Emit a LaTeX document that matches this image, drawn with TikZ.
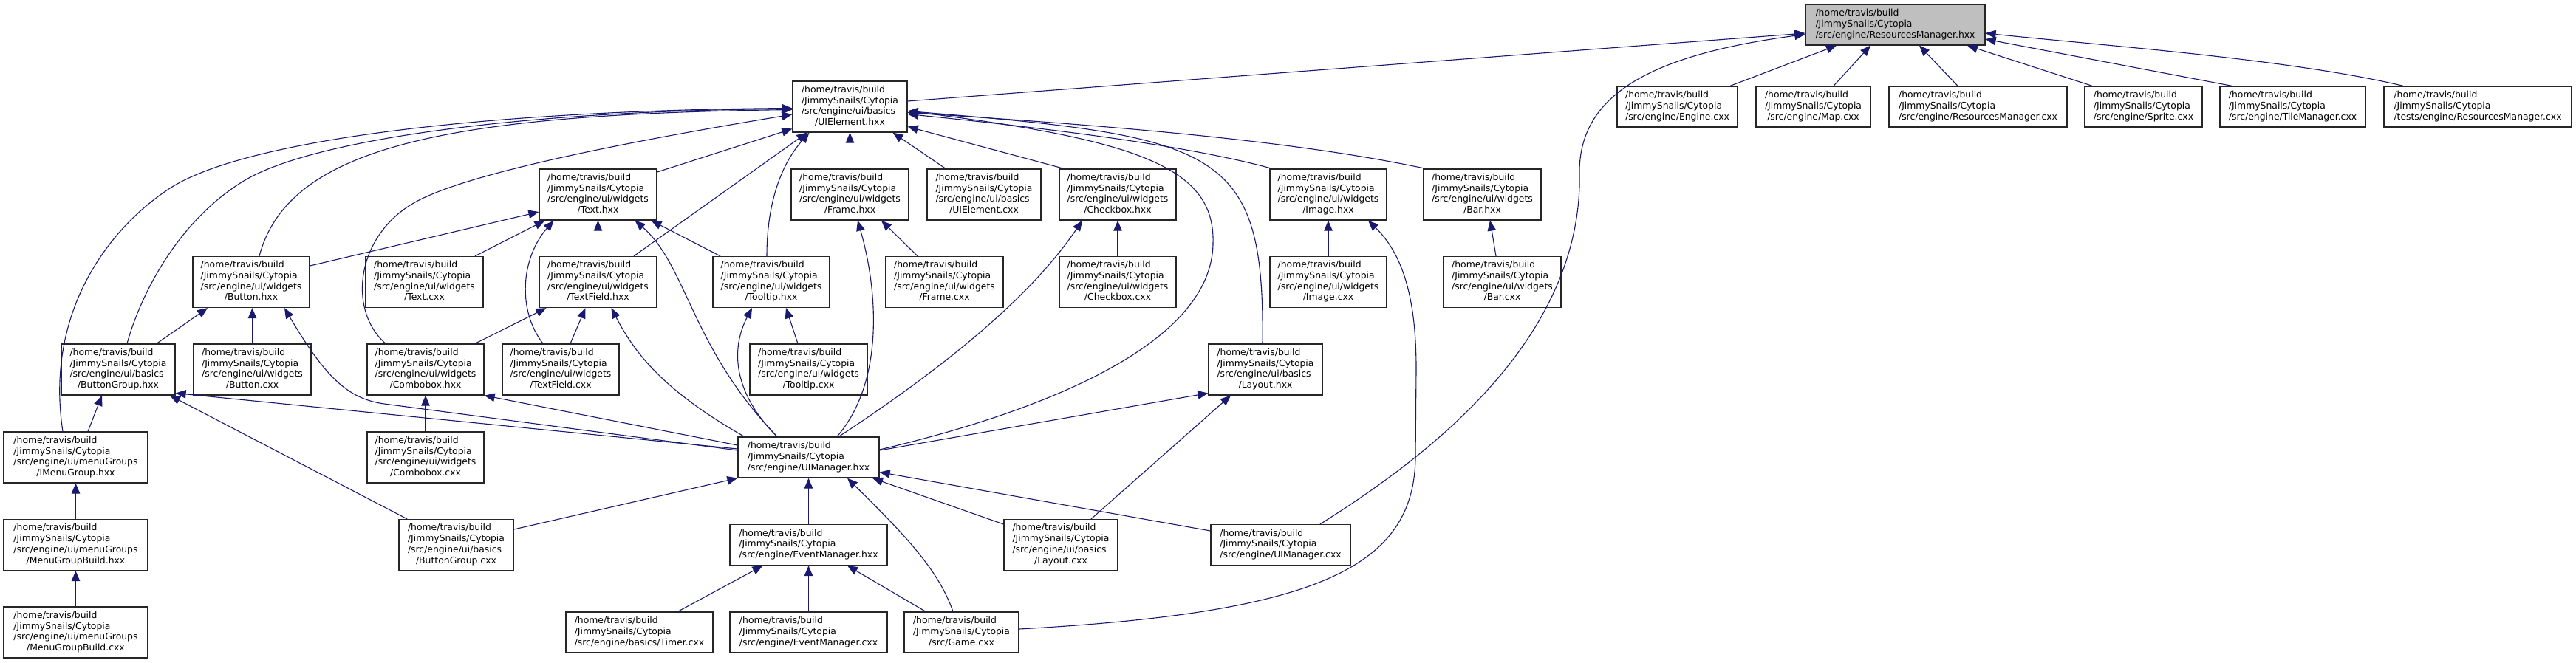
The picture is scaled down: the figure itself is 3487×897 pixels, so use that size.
\documentclass[tikz,border=0pt]{standalone}
\usepackage{fontspec}
\setmainfont{DejaVu Sans}
\usetikzlibrary{arrows.meta}
\definecolor{mblue}{HTML}{191970}
\definecolor{rmgray}{HTML}{BFBFBF}
\newcommand{\lblfour}[2]{\begin{tabular}{@{}l@{}}/home/travis/build\\/JimmySnails/Cytopia\\#1\\\multicolumn{1}{@{}c@{}}{#2}\end{tabular}}
\newcommand{\lblthree}[1]{\begin{tabular}{@{}l@{}}/home/travis/build\\/JimmySnails/Cytopia\\\multicolumn{1}{@{}c@{}}{#1}\end{tabular}}
\begin{document}
\begin{tikzpicture}[x=1pt,y=-1pt,
  box/.style={draw=black!85, line width=1.3pt, fill=white, inner sep=0pt, font=\fontsize{12.4pt}{14.7pt}\selectfont},
  b4/.style={box, minimum height=69pt},
  b3/.style={box, minimum height=55pt},
  dep/.style={draw=mblue, line width=1.1pt, {Triangle[length=14pt,width=11.5pt]}-}]
\useasboundingbox (0,0) rectangle (3487,897);
% row 0
\node[b3,minimum width=243pt,fill=rmgray] (rmh) at (2565.5,33.5) {\lblthree{/src/engine/ResourcesManager.hxx}};
% row 1
\node[b4,minimum width=155pt] (uie) at (1150.5,144.5) {\lblfour{/src/engine/ui/basics}{/UIElement.hxx}};
\node[b3,minimum width=163pt] (engine) at (2270.5,144.5) {\lblthree{/src/engine/Engine.cxx}};
\node[b3,minimum width=155pt] (map) at (2454.5,144.5) {\lblthree{/src/engine/Map.cxx}};
\node[b3,minimum width=241pt] (rmc) at (2677.5,144.5) {\lblthree{/src/engine/ResourcesManager.cxx}};
\node[b3,minimum width=159pt] (sprite) at (2901.5,144.5) {\lblthree{/src/engine/Sprite.cxx}};
\node[b3,minimum width=197pt] (tile) at (3103.5,144.5) {\lblthree{/src/engine/TileManager.cxx}};
\node[b3,minimum width=254pt] (trmc) at (3354,144.5) {\lblthree{/tests/engine/ResourcesManager.cxx}};
% row 2
\node[b4,minimum width=159pt] (texth) at (809.5,263.5) {\lblfour{/src/engine/ui/widgets}{/Text.hxx}};
\node[b4,minimum width=159pt] (frameh) at (1150.5,263.5) {\lblfour{/src/engine/ui/widgets}{/Frame.hxx}};
\node[b4,minimum width=154pt] (uiec) at (1332,263.5) {\lblfour{/src/engine/ui/basics}{/UIElement.cxx}};
\node[b4,minimum width=158pt] (checkh) at (1513,263.5) {\lblfour{/src/engine/ui/widgets}{/Checkbox.hxx}};
\node[b4,minimum width=158pt] (imageh) at (1798,263.5) {\lblfour{/src/engine/ui/widgets}{/Image.hxx}};
\node[b4,minimum width=159pt] (barh) at (2006.5,263.5) {\lblfour{/src/engine/ui/widgets}{/Bar.hxx}};
% row 3
\node[b4,minimum width=158pt] (buttonh) at (340,382) {\lblfour{/src/engine/ui/widgets}{/Button.hxx}};
\node[b4,minimum width=159pt] (textc) at (574.5,382) {\lblfour{/src/engine/ui/widgets}{/Text.cxx}};
\node[b4,minimum width=159pt] (tfh) at (809.5,382) {\lblfour{/src/engine/ui/widgets}{/TextField.hxx}};
\node[b4,minimum width=158pt] (tooltiph) at (1044,382) {\lblfour{/src/engine/ui/widgets}{/Tooltip.hxx}};
\node[b4,minimum width=159pt] (framec) at (1278.5,382) {\lblfour{/src/engine/ui/widgets}{/Frame.cxx}};
\node[b4,minimum width=158pt] (checkc) at (1513,382) {\lblfour{/src/engine/ui/widgets}{/Checkbox.cxx}};
\node[b4,minimum width=158pt] (imagec) at (1798,382) {\lblfour{/src/engine/ui/widgets}{/Image.cxx}};
\node[b4,minimum width=159pt] (barc) at (2033.5,382) {\lblfour{/src/engine/ui/widgets}{/Bar.cxx}};
% row 4
\node[b4,minimum width=154pt] (bgh) at (160,500.5) {\lblfour{/src/engine/ui/basics}{/ButtonGroup.hxx}};
\node[b4,minimum width=159pt] (buttonc) at (341.5,500.5) {\lblfour{/src/engine/ui/widgets}{/Button.cxx}};
\node[b4,minimum width=158pt] (comboh) at (576,500.5) {\lblfour{/src/engine/ui/widgets}{/Combobox.hxx}};
\node[b4,minimum width=158pt] (tfc) at (759,500.5) {\lblfour{/src/engine/ui/widgets}{/TextField.cxx}};
\node[b4,minimum width=159pt] (tooltipc) at (1094.5,500.5) {\lblfour{/src/engine/ui/widgets}{/Tooltip.cxx}};
\node[b4,minimum width=154pt] (layouth) at (1713,500.5) {\lblfour{/src/engine/ui/basics}{/Layout.hxx}};
% row 5
\node[b4,minimum width=195pt] (imenu) at (102.5,619.5) {\lblfour{/src/engine/ui/menuGroups}{/IMenuGroup.hxx}};
\node[b4,minimum width=158pt] (comboc) at (576,619.5) {\lblfour{/src/engine/ui/widgets}{/Combobox.cxx}};
\node[b3,minimum width=191pt] (uimh) at (1094.5,619.5) {\lblthree{/src/engine/UIManager.hxx}};
% row 6
\node[b4,minimum width=195pt] (mgbh) at (102.5,738) {\lblfour{/src/engine/ui/menuGroups}{/MenuGroupBuild.hxx}};
\node[b4,minimum width=155pt] (bgc) at (617.5,738) {\lblfour{/src/engine/ui/basics}{/ButtonGroup.cxx}};
\node[b3,minimum width=213pt] (emh) at (1094.5,738) {\lblthree{/src/engine/EventManager.hxx}};
\node[b4,minimum width=154pt] (layoutc) at (1436,738) {\lblfour{/src/engine/ui/basics}{/Layout.cxx}};
\node[b3,minimum width=189pt] (uimc) at (1733.5,738) {\lblthree{/src/engine/UIManager.cxx}};
% row 7
\node[b4,minimum width=195pt] (mgbc) at (102.5,856.5) {\lblfour{/src/engine/ui/menuGroups}{/MenuGroupBuild.cxx}};
\node[b3,minimum width=199pt] (timer) at (865.5,856.5) {\lblthree{/src/engine/basics/Timer.cxx}};
\node[b3,minimum width=213pt] (emc) at (1094.5,856.5) {\lblthree{/src/engine/EventManager.cxx}};
\node[b3,minimum width=155pt] (game) at (1301.5,856.5) {\lblthree{/src/Game.cxx}};

% ResourcesManager.hxx
\draw[dep] ([yshift=-11.5pt]rmh.west) -- ([yshift=7.5pt]uie.east);
\draw[dep] ([yshift=-13pt]rmh.west) .. controls (2230,75) and (2140,130) .. (2138,230) .. controls (2145,460) and (1930,620) .. ([xshift=53.5pt]uimc.north);
\draw[dep] ([xshift=-79.5pt]rmh.south) -- ([xshift=71.5pt]engine.north);
\draw[dep] ([xshift=-33.5pt]rmh.south) -- ([xshift=27.5pt]map.north);
\draw[dep] ([xshift=32.5pt]rmh.south) -- ([xshift=-27.5pt]rmc.north);
\draw[dep] ([xshift=97.5pt]rmh.south) -- ([xshift=-69.5pt]sprite.north);
\draw[dep] ([yshift=-19.5pt]rmh.east) -- ([xshift=-82.5pt]tile.north);
\draw[dep] ([yshift=-11.5pt]rmh.east) .. controls (2850,62) and (3100,80) .. ([xshift=-101pt]trmc.north);

% UIElement.hxx
\draw[dep] ([yshift=-30pt]uie.west) -- ([yshift=30.5pt]texth.east);
\draw[dep] ([xshift=-58pt]uie.south) -- ([xshift=48.5pt]tfh.north);
\draw[dep] ([xshift=-55pt]uie.south) .. controls (1055,225) and (1038,280) .. ([xshift=-6pt]tooltiph.north);
\draw[dep] (uie.south) -- (frameh.north);
\draw[dep] ([xshift=58pt]uie.south) -- ([xshift=-52pt]uiec.north);
\draw[dep] ([yshift=-27pt]uie.east) -- ([xshift=-73pt]checkh.north);
\draw[dep] ([yshift=-10pt]uie.east) .. controls (1400,172) and (1600,195) .. ([xshift=-76pt]imageh.north);
\draw[dep] ([yshift=-8pt]uie.east) .. controls (1500,170) and (1750,190) .. ([xshift=-77pt]barh.north);
\draw[dep] ([yshift=-6pt]uie.east) .. controls (1650,185) and (1712,200) .. ([xshift=-4pt]layouth.north);
\draw[dep] ([yshift=-6pt]uie.east) .. controls (1550,190) and (1645,230) .. (1642,330) .. controls (1640,470) and (1400,560) .. ([yshift=10.5pt]uimh.east);
\draw[dep] ([yshift=-10.5pt]uie.west) .. controls (800,200) and (620,240) .. (560,275) .. controls (482,320) and (470,420) .. ([xshift=-54pt]comboh.north);
\draw[dep] ([yshift=-2pt]uie.west) .. controls (650,150) and (330,190) .. (230,255) .. controls (150,307) and (60,420) .. ([xshift=-17.5pt]imenu.north);
\draw[dep] ([yshift=-3pt]uie.west) .. controls (700,150) and (420,190) .. (330,245) .. controls (240,300) and (190,400) .. ([xshift=12pt]bgh.north);
\draw[dep] ([yshift=-4pt]uie.west) .. controls (600,155) and (390,200) .. ([xshift=11pt]buttonh.north);

% Text.hxx
\draw[dep] ([yshift=-23.5pt]texth.west) -- ([yshift=22pt]buttonh.east);
\draw[dep] ([xshift=-72pt]texth.south) -- ([xshift=68.5pt]textc.north);
\draw[dep] (texth.south) -- (tfh.north);
\draw[dep] ([xshift=-60pt]texth.south) .. controls (705,350) and (700,420) .. ([xshift=-24pt]tfc.north);
\draw[dep] ([xshift=72pt]texth.south) -- ([xshift=-69pt]tooltiph.north);
\draw[dep] ([xshift=50pt]texth.south) .. controls (930,360) and (935,470) .. ([xshift=-42.5pt]uimh.north);

% TextField.hxx
\draw[dep] ([xshift=-70pt]tfh.south) -- ([xshift=67pt]comboh.north);
\draw[dep] ([xshift=-17pt]tfh.south) -- ([xshift=13pt]tfc.north);
\draw[dep] ([xshift=18pt]tfh.south) .. controls (860,480) and (900,530) .. ([xshift=-87pt]uimh.north);

% Button.hxx
\draw[dep] ([xshift=-59pt]buttonh.south) -- ([xshift=52pt]bgh.north);
\draw[dep] ([xshift=1.5pt]buttonh.south) -- (buttonc.north);
\draw[dep] ([xshift=45pt]buttonh.south) .. controls (440,510) and (470,540) .. (520,547) -- ([yshift=9.5pt]uimh.west);

% ButtonGroup.hxx
\draw[dep] ([xshift=-22pt]bgh.south) -- ([xshift=16.5pt]imenu.north);
\draw[dep] ([yshift=-32pt]bgh.east) -- ([yshift=11.5pt]uimh.west);
\draw[dep] ([xshift=70pt]bgh.south) -- ([xshift=-66.5pt]bgc.north);

% Combobox.hxx
\draw[dep] (comboh.south) -- (comboc.north);
\draw[dep] (comboh.south east) -- ([yshift=16.5pt]uimh.west);

% Tooltip.hxx
\draw[dep] ([xshift=20pt]tooltiph.south) -- ([xshift=-14.5pt]tooltipc.north);
\draw[dep] ([xshift=-26pt]tooltiph.south) .. controls (990,470) and (990,530) .. ([xshift=-42.5pt]uimh.north);

% Frame.hxx
\draw[dep] ([xshift=42.5pt]frameh.south) -- ([xshift=-36.5pt]framec.north);
\draw[dep] ([xshift=10.5pt]frameh.south) .. controls (1190,400) and (1195,520) .. ([xshift=38.5pt]uimh.north);

% Checkbox.hxx
\draw[dep] (checkh.south) -- (checkc.north);
\draw[dep] ([xshift=-48pt]checkh.south) .. controls (1410,380) and (1320,470) .. ([xshift=41pt]uimh.north);

% Image.hxx
\draw[dep] (imageh.south) -- (imagec.north);
\draw[dep] ([xshift=54pt]imageh.south) .. controls (1905,350) and (1917,420) .. (1917,500) -- (1916,620) .. controls (1914,770) and (1780,830) .. ([yshift=4.5pt]game.east);

% Bar.hxx
\draw[dep] ([xshift=10.5pt]barh.south) -- ([xshift=-8.5pt]barc.north);

% Layout.hxx
\draw[dep] ([xshift=-47pt]layouth.south) -- ([xshift=41pt]layoutc.north);
\draw[dep] ([yshift=-32pt]layouth.west) -- ([yshift=9.5pt]uimh.east);

% UIManager.hxx
\draw[dep] (uimh.south) -- (emh.north);
\draw[dep] ([xshift=52.5pt]uimh.south) .. controls (1220,720) and (1270,770) .. ([xshift=-11.5pt]game.north);
\draw[dep] ([xshift=86.5pt]uimh.south) -- ([yshift=28pt]layoutc.west);
\draw[dep] ([yshift=-20pt]uimh.east) -- ([yshift=19pt]uimc.west);
\draw[dep] (uimh.south west) -- ([yshift=21pt]bgc.east);

% EventManager.hxx
\draw[dep] ([xshift=-62pt]emh.south) -- ([xshift=52pt]timer.north);
\draw[dep] (emh.south) -- (emc.north);
\draw[dep] ([xshift=52.5pt]emh.south) -- ([xshift=-48.5pt]game.north);

% menu groups
\draw[dep] (imenu.south) -- (mgbh.north);
\draw[dep] (mgbh.south) -- (mgbc.north);
\end{tikzpicture}
\end{document}
